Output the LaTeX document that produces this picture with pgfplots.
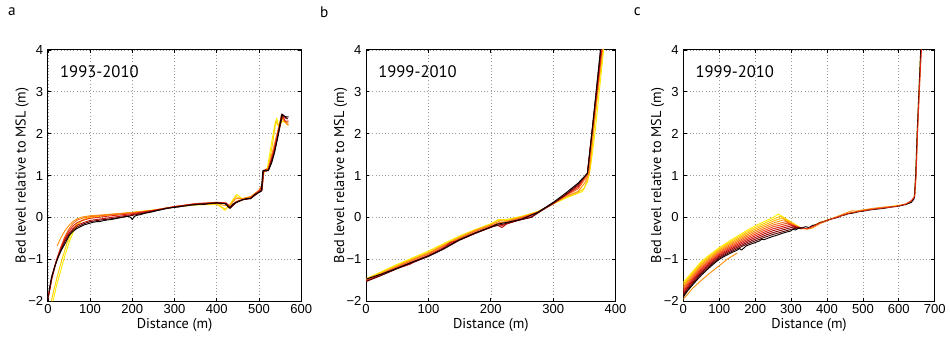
\documentclass[border=0pt]{standalone}
\usepackage{fontspec}
\setmainfont{Liberation Sans}
\newfontfamily\labelfont{PT Sans}
\usepackage{pgfplots}
\pgfplotsset{compat=1.18}

% yellow -> black sequence for successive surveys
\definecolor{k0}{rgb}{1.00,0.93,0.00}
\definecolor{k1}{rgb}{1.00,0.82,0.00}
\definecolor{k2}{rgb}{1.00,0.70,0.00}
\definecolor{k3}{rgb}{1.00,0.57,0.05}
\definecolor{k4}{rgb}{0.98,0.44,0.10}
\definecolor{k5}{rgb}{0.95,0.30,0.10}
\definecolor{k6}{rgb}{0.88,0.15,0.08}
\definecolor{k7}{rgb}{0.75,0.06,0.06}
\definecolor{k8}{rgb}{0.55,0.03,0.03}
\definecolor{k9}{rgb}{0.35,0.01,0.01}
\definecolor{k10}{rgb}{0.06,0.00,0.00}

\tikzset{yrtitle/.style={anchor=west, font=\labelfont\fontsize{12.5}{14}\selectfont}}

\pgfplotsset{
  bedaxis/.style={
    scale only axis, height=189pt, anchor=south west,
    ymin=-2, ymax=4, ytick={-2,-1,0,1,2,3,4},
    yticklabels={−2,−1,0,1,2,3,4},
    grid=major, major grid style={dotted, gray!80, line width=0.45pt},
    tick align=inside, major tick length=2.5pt,
    tick style={black, line width=0.5pt},
    axis line style={black, line width=0.75pt},
    /pgf/number format/assume math mode=true,
    tick label style={font=\fontsize{9.8}{10}\selectfont},
    x tick label style={yshift=1.5pt},
    xlabel={Distance (m)}, ylabel={Bed level relative to MSL (m)},
    label style={font=\labelfont\fontsize{10.7}{12}\selectfont},
    xlabel style={at={(axis description cs:0.5,-0.093)}, anchor=center},
    ylabel style={at={(axis description cs:-0.102,0.5)}, anchor=center},
    no markers,
    every axis plot/.append style={line width=0.7pt, line join=round},
  },
}

\begin{document}
\begin{tikzpicture}
\path (0,0) rectangle (712.5pt,-255.75pt);
\node[font=\labelfont\fontsize{11.5}{13}\selectfont] at (9pt,-9pt) {a};
\node[font=\labelfont\fontsize{11.5}{13}\selectfont] at (243.75pt,-9pt) {b};
\node[font=\labelfont\fontsize{11.5}{13}\selectfont] at (479.25pt,-9pt) {c};

% ---------------- a ----------------
\begin{axis}[bedaxis, at={(36pt,-226.5pt)}, width=190.5pt,
  xmin=0, xmax=600, xtick={0,100,...,600}]
\addplot[k0] coordinates {(12,-2.0)(20,-1.65)(30,-1.28)(40,-0.92)(50,-0.6)(60,-0.35)(70,-0.18)(80,-0.08)(100,0.0)(150,0.06)(200,0.12)(250,0.18)(300,0.25)(350,0.3)(400,0.31)(410,0.25)(420,0.17)(430,0.3)(440,0.45)(447,0.55)(460,0.45)(480,0.47)(500,0.62)(506,0.72)(510,1.05)(520,1.2)(530,1.8)(537,2.2)(542,2.37)(547,2.15)(555,2.3)(565,2.25)};
\addplot[k1] coordinates {(8,-2.0)(15,-1.7)(25,-1.3)(35,-0.95)(45,-0.62)(55,-0.38)(65,-0.2)(80,-0.07)(100,0.01)(150,0.07)(200,0.12)(250,0.17)(300,0.25)(350,0.31)(400,0.32)(420,0.2)(432,0.3)(445,0.5)(460,0.44)(480,0.47)(500,0.63)(507,0.75)(512,1.1)(522,1.2)(532,1.75)(540,2.3)(545,2.2)(555,2.35)(568,2.2)};
\addplot[k3] coordinates {(22,-0.68)(30,-0.5)(40,-0.32)(50,-0.19)(60,-0.09)(70,-0.03)(80,0.01)(100,0.04)(150,0.08)(200,0.12)(250,0.17)(300,0.26)(350,0.32)(400,0.34)(420,0.28)(432,0.3)(445,0.45)(460,0.45)(480,0.5)(500,0.65)(508,0.8)(512,1.12)(522,1.18)(535,1.7)(545,2.1)(552,2.4)(560,2.3)(570,2.25)};
\addplot[k4] coordinates {(2,-1.85)(10,-1.45)(20,-1.05)(30,-0.72)(40,-0.46)(50,-0.27)(60,-0.14)(70,-0.06)(85,-0.01)(100,0.02)(150,0.07)(200,0.11)(250,0.17)(300,0.26)(350,0.33)(400,0.36)(420,0.34)(432,0.26)(445,0.38)(460,0.43)(480,0.48)(500,0.64)(508,0.8)(511,1.12)(522,1.15)(535,1.6)(545,2.0)(553,2.45)(560,2.3)(570,2.2)};
\addplot[k6] coordinates {(1,-1.9)(10,-1.4)(20,-1.02)(30,-0.74)(40,-0.5)(50,-0.32)(60,-0.2)(70,-0.12)(85,-0.06)(100,-0.02)(150,0.04)(200,0.09)(250,0.17)(300,0.26)(350,0.33)(400,0.36)(422,0.35)(432,0.24)(445,0.36)(460,0.42)(480,0.47)(500,0.63)(508,0.75)(511,1.12)(522,1.15)(535,1.6)(545,2.05)(555,2.45)(562,2.3)(570,2.3)};
\addplot[k7] coordinates {(0,-1.95)(10,-1.38)(20,-1.04)(30,-0.77)(40,-0.54)(50,-0.37)(60,-0.26)(70,-0.18)(85,-0.12)(100,-0.07)(150,0.0)(200,0.07)(250,0.16)(300,0.25)(350,0.32)(400,0.35)(422,0.33)(432,0.23)(445,0.35)(460,0.42)(480,0.46)(500,0.62)(507,0.66)(510,1.1)(522,1.12)(535,1.55)(545,2.0)(555,2.45)(565,2.35)};
\addplot[k9] coordinates {(0,-1.95)(8,-1.5)(18,-1.12)(30,-0.8)(40,-0.58)(50,-0.41)(60,-0.3)(70,-0.22)(85,-0.15)(100,-0.1)(125,-0.06)(150,-0.03)(200,0.05)(250,0.15)(300,0.25)(350,0.31)(400,0.34)(422,0.33)(432,0.22)(445,0.35)(460,0.42)(480,0.45)(500,0.6)(507,0.64)(510,1.1)(522,1.12)(535,1.5)(545,1.95)(556,2.45)(568,2.35)};
\addplot[k10] coordinates {(3,-1.75)(8,-1.45)(16,-1.18)(24,-0.95)(32,-0.78)(42,-0.6)(51,-0.42)(60,-0.33)(68,-0.27)(75,-0.23)(85,-0.18)(95,-0.15)(105,-0.12)(115,-0.1)(122,-0.1)(130,-0.08)(140,-0.06)(150,-0.05)(160,-0.03)(170,-0.01)(180,0.01)(190,0.03)(196,0.0)(200,-0.05)(204,0.02)(210,0.05)(220,0.07)(230,0.1)(240,0.12)(250,0.14)(260,0.17)(270,0.19)(280,0.22)(290,0.23)(300,0.24)(310,0.25)(320,0.27)(330,0.28)(340,0.3)(350,0.3)(360,0.32)(370,0.31)(380,0.33)(390,0.34)(400,0.35)(410,0.34)(420,0.33)(430,0.22)(438,0.32)(450,0.38)(460,0.42)(470,0.45)(480,0.45)(490,0.55)(500,0.6)(505,0.62)(509,1.12)(515,1.13)(522,1.12)(530,1.3)(538,1.6)(545,1.95)(550,2.25)(554,2.47)(560,2.42)(565,2.4)(570,2.4)};
\node[yrtitle] at (rel axis cs:0.03,0.915) {1993-2010};
\end{axis}

% ---------------- b ----------------
\begin{axis}[bedaxis, at={(275.25pt,-226.5pt)}, width=187.5pt,
  xmin=0, xmax=400, xtick={0,100,...,400}]
\addplot[k0] coordinates {(0,-1.46)(25,-1.29)(50,-1.12)(75,-0.96)(100,-0.8)(125,-0.62)(150,-0.44)(175,-0.29)(200,-0.15)(212,-0.05)(225,-0.05)(250,0.03)(275,0.14)(300,0.32)(320,0.46)(335,0.55)(347,0.62)(355,0.85)(360,1.2)(367,2.0)(374,3.0)(381,4.0)(384,4.4)};
\addplot[k1] coordinates {(0,-1.47)(25,-1.31)(50,-1.14)(75,-0.98)(100,-0.83)(125,-0.64)(150,-0.46)(175,-0.3)(200,-0.16)(213,-0.06)(225,-0.07)(250,0.02)(275,0.13)(300,0.33)(320,0.48)(338,0.58)(350,0.7)(358,1.02)(365,2.0)(372,3.0)(380,4.0)(383,4.4)};
\addplot[k3] coordinates {(0,-1.48)(25,-1.33)(50,-1.16)(75,-1.0)(100,-0.85)(125,-0.66)(150,-0.48)(175,-0.31)(200,-0.18)(215,-0.08)(225,-0.09)(250,0.01)(275,0.13)(300,0.33)(320,0.5)(340,0.62)(352,0.85)(357,1.05)(364,2.0)(371,3.0)(379,4.0)(382,4.4)};
\addplot[k4] coordinates {(0,-1.5)(25,-1.34)(50,-1.18)(75,-1.02)(100,-0.87)(125,-0.68)(150,-0.5)(175,-0.33)(200,-0.2)(215,-0.12)(225,-0.11)(250,0.0)(275,0.12)(300,0.33)(320,0.52)(340,0.68)(354,0.98)(357,1.08)(363,2.0)(371,3.0)(378,4.0)(381,4.4)};
\addplot[k6] coordinates {(0,-1.51)(25,-1.36)(50,-1.2)(75,-1.05)(100,-0.9)(125,-0.71)(150,-0.52)(175,-0.36)(200,-0.22)(212,-0.15)(218,-0.2)(225,-0.14)(250,-0.02)(275,0.12)(300,0.33)(320,0.53)(340,0.72)(355,1.05)(362,2.0)(370,3.0)(378,4.0)(381,4.4)};
\addplot[k7] coordinates {(0,-1.52)(25,-1.37)(50,-1.22)(70,-1.12)(75,-1.08)(100,-0.92)(120,-0.78)(125,-0.72)(135,-0.6)(150,-0.54)(175,-0.38)(200,-0.24)(210,-0.18)(218,-0.24)(225,-0.16)(250,-0.04)(265,0.02)(275,0.11)(300,0.33)(320,0.54)(340,0.76)(355,1.06)(362,2.0)(370,3.0)(377,4.0)(380,4.4)};
\addplot[k9] coordinates {(0,-1.53)(25,-1.38)(50,-1.22)(75,-1.07)(100,-0.93)(125,-0.75)(150,-0.54)(175,-0.38)(200,-0.23)(225,-0.14)(250,-0.05)(265,0.0)(275,0.1)(300,0.34)(320,0.55)(340,0.79)(355,1.06)(362,2.0)(369,3.0)(376,4.0)(379,4.4)};
\addplot[k10] coordinates {(0,-1.47)(25,-1.35)(50,-1.21)(75,-1.06)(100,-0.92)(125,-0.74)(150,-0.53)(175,-0.37)(200,-0.23)(210,-0.16)(225,-0.12)(250,-0.04)(275,0.12)(300,0.36)(320,0.58)(340,0.82)(355,1.05)(362,2.0)(369,3.0)(376,4.0)(379,4.4)};
\node[yrtitle] at (rel axis cs:0.03,0.915) {1999-2010};
\end{axis}

% ---------------- c ----------------
\begin{axis}[bedaxis, at={(513.75pt,-226.5pt)}, width=189pt,
  xmin=0, xmax=700, xtick={0,100,...,700}]
% lower reach, one profile per survey
\addplot[k0] coordinates {(0,-1.55)(25,-1.30)(50,-1.05)(75,-0.88)(100,-0.72)(125,-0.58)(150,-0.45)(175,-0.32)(200,-0.20)(225,-0.10)(250,0.00)(265,0.08)(330,-0.27)};
\addplot[k1] coordinates {(0,-1.585)(25,-1.332)(50,-1.083)(75,-0.91)(100,-0.748)(125,-0.61)(150,-0.483)(175,-0.356)(200,-0.24)(225,-0.142)(250,-0.045)(270,0.03)(330,-0.26)};
\addplot[k2] coordinates {(0,-1.62)(25,-1.364)(50,-1.116)(75,-0.94)(100,-0.776)(125,-0.64)(150,-0.516)(175,-0.392)(200,-0.28)(225,-0.184)(250,-0.09)(275,-0.01)(330,-0.27)};
\addplot[k3] coordinates {(0,-1.655)(25,-1.396)(50,-1.149)(75,-0.97)(100,-0.804)(125,-0.67)(150,-0.549)(175,-0.428)(200,-0.32)(225,-0.226)(250,-0.135)(280,-0.055)(330,-0.28)};
\addplot[k4] coordinates {(0,-1.69)(25,-1.428)(50,-1.182)(75,-1.00)(100,-0.832)(125,-0.70)(150,-0.582)(175,-0.464)(200,-0.36)(225,-0.268)(250,-0.18)(285,-0.10)(330,-0.27)};
\addplot[k5] coordinates {(0,-1.725)(25,-1.46)(50,-1.215)(75,-1.03)(100,-0.86)(125,-0.73)(150,-0.615)(175,-0.50)(200,-0.40)(225,-0.31)(250,-0.225)(290,-0.135)(330,-0.27)};
\addplot[k6] coordinates {(0,-1.76)(25,-1.492)(50,-1.248)(75,-1.06)(100,-0.888)(125,-0.76)(150,-0.648)(175,-0.536)(200,-0.44)(225,-0.352)(250,-0.27)(295,-0.17)(330,-0.26)};
\addplot[k7] coordinates {(0,-1.795)(25,-1.524)(50,-1.281)(75,-1.09)(100,-0.916)(125,-0.79)(150,-0.681)(175,-0.572)(200,-0.48)(225,-0.394)(250,-0.315)(300,-0.20)(330,-0.26)};
\addplot[k8] coordinates {(0,-1.83)(25,-1.556)(50,-1.314)(75,-1.12)(100,-0.944)(125,-0.82)(150,-0.714)(175,-0.608)(200,-0.52)(225,-0.436)(250,-0.36)(305,-0.23)(330,-0.26)};
\addplot[k9] coordinates {(0,-1.865)(25,-1.588)(50,-1.347)(75,-1.15)(100,-0.972)(125,-0.85)(150,-0.747)(175,-0.644)(200,-0.56)(225,-0.478)(250,-0.405)(310,-0.26)(330,-0.25)};
\addplot[k3] coordinates {(0,-1.95)(25,-1.7)(50,-1.5)(75,-1.32)(100,-1.15)(125,-0.98)(150,-0.85)};
\addplot[k10] coordinates {(0,-1.9)(12,-1.75)(25,-1.62)(37,-1.5)(50,-1.38)(62,-1.28)(75,-1.18)(87,-1.09)(100,-1.0)(112,-0.94)(125,-0.88)(137,-0.83)(150,-0.78)(157,-0.74)(162,-0.78)(175,-0.68)(187,-0.64)(200,-0.6)(212,-0.56)(218,-0.52)(225,-0.53)(237,-0.49)(250,-0.45)(262,-0.42)(275,-0.38)(287,-0.35)(300,-0.32)(305,-0.28)(312,-0.3)(320,-0.26)(330,-0.25)};
% upper reach and dune face
\addplot[k0] coordinates {(330,-0.27)(345,-0.26)(360,-0.2)(380,-0.12)(400,-0.06)(430,0.02)(460,0.1)(480,0.14)(500,0.17)(530,0.2)(560,0.23)(590,0.28)(600,0.29)(620,0.32)(635,0.38)(643,0.48)(647,1.0)(651,2.0)(656,3.0)(661,4.0)(663,4.4)};
\addplot[k3] coordinates {(330,-0.25)(345,-0.28)(360,-0.25)(380,-0.15)(400,-0.08)(430,0.03)(460,0.13)(470,0.16)(480,0.15)(500,0.18)(530,0.22)(560,0.25)(590,0.27)(610,0.3)(625,0.34)(638,0.42)(645,0.52)(648,1.0)(652,2.0)(657,3.0)(662,4.0)(664,4.4)};
\addplot[k10] coordinates {(330,-0.25)(340,-0.22)(350,-0.24)(360,-0.19)(370,-0.17)(380,-0.12)(390,-0.1)(400,-0.07)(410,-0.04)(420,-0.02)(430,0.0)(440,0.04)(450,0.06)(460,0.09)(470,0.1)(480,0.12)(490,0.14)(500,0.15)(520,0.18)(540,0.2)(560,0.22)(580,0.25)(600,0.27)(620,0.31)(635,0.36)(643,0.45)(647,1.0)(651,2.0)(656,3.0)(661,4.0)(663,4.4)};
\addplot[k6] coordinates {(330,-0.26)(345,-0.27)(360,-0.22)(380,-0.13)(400,-0.07)(430,0.01)(460,0.1)(480,0.13)(500,0.16)(530,0.2)(560,0.23)(590,0.26)(600,0.28)(620,0.32)(635,0.4)(644,0.5)(648,1.0)(652,2.0)(657,3.0)(663,4.0)(665,4.4)};
\node[yrtitle] at (rel axis cs:0.03,0.915) {1999-2010};
\end{axis}
\end{tikzpicture}
\end{document}
